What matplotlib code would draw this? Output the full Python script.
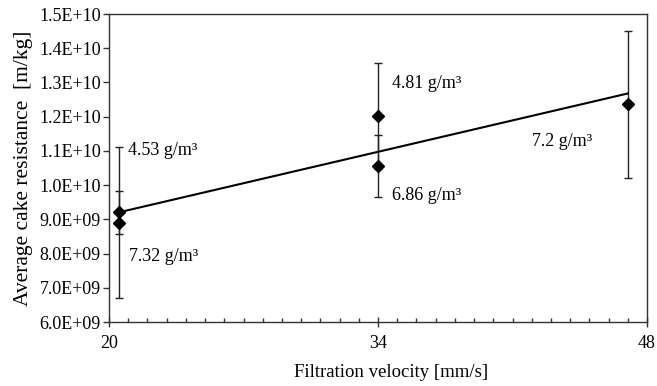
import numpy as np
import matplotlib
matplotlib.use("Agg")
import matplotlib.pyplot as plt
from matplotlib.ticker import FixedLocator, MultipleLocator, FuncFormatter

plt.rcParams['font.family'] = ['Liberation Serif', 'DejaVu Serif']

# Measurements: filtration velocity vs. average specific cake resistance
velocity = [20.5, 20.5, 34.0, 34.0, 47.0]           # mm/s
resistance = [9.20e9, 8.90e9, 12.02e9, 10.55e9, 12.36e9]  # m/kg
resistance_err = [0.63e9, 2.20e9, 1.54e9, 0.90e9, 2.15e9]
dust_labels = ['4.53 g/m³', '7.32 g/m³', '4.81 g/m³', '6.86 g/m³', '7.2 g/m³']

x_ticks = [20, 34, 48]
y_ticks = [6e9, 7e9, 8e9, 9e9, 1.0e10, 1.1e10, 1.2e10, 1.3e10, 1.4e10, 1.5e10]

# annotation anchors (data coords) for the dust-concentration labels
label_x = [21.0, 21.05, 34.75, 34.75, 42.0]
label_y = [1.10e10, 7.92e9, 1.298e10, 9.71e9, 1.126e10]

fig = plt.figure(figsize=(6.57, 3.86), dpi=100)
ax = fig.add_axes([0.1659, 0.1658, 0.8189, 0.7979])

ax.errorbar(velocity, resistance, yerr=resistance_err, fmt='none',
            ecolor='#222222', elinewidth=1.0, capsize=3, capthick=1.0, zorder=2)
ax.plot(velocity, resistance, linestyle='none', marker='D', markersize=6,
        color='black', zorder=4)

# least-squares trend line through the measurements
slope, intercept = np.polyfit(velocity, resistance, 1)
xs = np.array([min(velocity), max(velocity)])
ax.plot(xs, slope * xs + intercept, color='black', linewidth=1.5, zorder=3)

for tx, ty, txt in zip(label_x, label_y, dust_labels):
    ax.text(tx, ty, txt, fontsize=13, ha='left', va='center')

ax.set_xlim(20, 48)
ax.set_ylim(6e9, 1.5e10)
ax.xaxis.set_major_locator(FixedLocator(x_ticks))
ax.xaxis.set_minor_locator(MultipleLocator(1))
ax.yaxis.set_major_locator(FixedLocator(y_ticks))
ax.yaxis.set_major_formatter(FuncFormatter(lambda v, p: '{:.1E}'.format(v)))

for s in ax.spines.values():
    s.set_linewidth(1.0)
    s.set_color('#333333')

ax.tick_params(axis='x', which='major', direction='inout', length=7, width=1,
               labelsize=13, pad=6, color='#333333')
ax.tick_params(axis='x', which='minor', direction='in', length=3, width=1,
               color='#333333')
ax.tick_params(axis='y', which='major', direction='out', length=4, width=1,
               labelsize=13, pad=2, color='#333333')

ax.set_xlabel('Filtration velocity [mm/s]', fontsize=13.5)
ax.xaxis.set_label_coords(0.524, -0.135)
ax.set_ylabel('Average cake resistance  [m/kg]', fontsize=15.5, labelpad=4)

fig.savefig('out.png', dpi=100)
